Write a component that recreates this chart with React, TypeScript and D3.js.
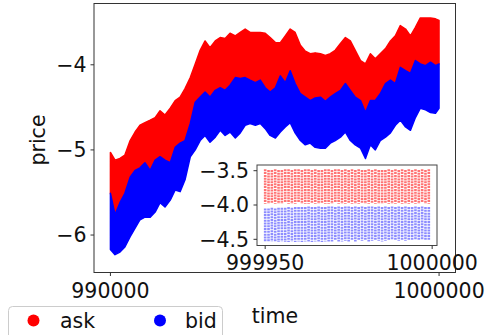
import React from "react";
import * as d3 from "d3";

// main panel: envelopes (ask top, red/blue border, bid bottom)
const mainTimes = [
  990000, 990140, 990290, 990440, 990600, 990750, 990900, 991050, 991210, 991360,
  991510, 991660, 991820, 991970, 992120, 992270, 992430, 992580, 992730, 992880,
  993030, 993190, 993340, 993490, 993640, 993800, 993950, 994100, 994250, 994410,
  994560, 994710, 994860, 995020, 995170, 995320, 995470, 995620, 995780, 995930,
  996080, 996230, 996390, 996540, 996690, 996840, 997000, 997150, 997300, 997450,
  997610, 997760, 997910, 998060, 998210, 998370, 998520, 998670, 998820, 998980,
  999130, 999280, 999430, 999590, 999740, 999890, 999999,
];
const askTop = [
  -5.03, -5.12, -5.1, -5.06, -4.89, -4.79, -4.71, -4.68, -4.65, -4.62,
  -4.54, -4.59, -4.51, -4.42, -4.38, -4.28, -4.15, -3.99, -3.83, -3.72,
  -3.8, -3.72, -3.68, -3.69, -3.63, -3.66, -3.62, -3.58, -3.62, -3.62,
  -3.62, -3.63, -3.68, -3.74, -3.74, -3.66, -3.58, -3.62, -3.77, -3.84,
  -3.87, -3.86, -3.87, -3.89, -3.87, -3.83, -3.75, -3.68, -3.72, -3.83,
  -3.95, -3.99, -3.87, -3.93, -3.87, -3.81, -3.72, -3.66, -3.54, -3.58,
  -3.66, -3.56, -3.45, -3.45, -3.45, -3.46, -3.48,
];
const bidTop = [
  -5.51, -5.76, -5.62, -5.51, -5.32, -5.24, -5.21, -5.15, -5.24, -5.12,
  -5.08, -5.12, -5.15, -4.97, -4.92, -4.89, -4.69, -4.44, -4.38, -4.32,
  -4.38, -4.3, -4.27, -4.3, -4.24, -4.15, -4.16, -4.15, -4.18, -4.21,
  -4.18, -4.27, -4.32, -4.27, -4.13, -4.21, -4.07, -4.22, -4.34, -4.38,
  -4.42, -4.39, -4.38, -4.43, -4.38, -4.34, -4.3, -4.22, -4.3, -4.38,
  -4.42, -4.56, -4.42, -4.42, -4.34, -4.22, -4.18, -4.22, -4.03, -4.07,
  -4.1, -3.95, -3.99, -4.01, -3.97, -4.01, -3.99,
];
const bidBottom = [
  -6.17, -6.23, -6.2, -6.14, -6.02, -5.92, -5.82, -5.79, -5.79, -5.73,
  -5.62, -5.67, -5.59, -5.47, -5.49, -5.35, -5.08, -5.0, -4.89, -4.83,
  -4.91, -4.85, -4.77, -4.83, -4.79, -4.86, -4.8, -4.71, -4.69, -4.71,
  -4.69, -4.75, -4.83, -4.86, -4.79, -4.73, -4.68, -4.8, -4.89, -4.94,
  -4.92, -4.97, -4.98, -4.98, -4.92, -4.89, -4.85, -4.79, -4.89, -4.94,
  -4.98, -5.1, -4.94, -5.0, -4.89, -4.85, -4.8, -4.71, -4.65, -4.73,
  -4.77, -4.62, -4.51, -4.53, -4.56, -4.57, -4.51,
];
const mainXTicks = [990000, 1000000];
const mainYTicks = [-4, -5, -6];

// inset: last 50 steps, one column of points per step
const insetTimes = d3.range(999950, 1000000);
const insetAskHigh = [
  -3.48, -3.49, -3.49, -3.48, -3.49, -3.49, -3.48, -3.48, -3.49, -3.48,
  -3.48, -3.49, -3.48, -3.48, -3.49, -3.48, -3.49, -3.49, -3.48, -3.48,
  -3.49, -3.48, -3.48, -3.49, -3.48, -3.49, -3.48, -3.49, -3.48, -3.49,
  -3.49, -3.48, -3.49, -3.48, -3.49, -3.49, -3.49, -3.48, -3.49, -3.48,
  -3.49, -3.48, -3.49, -3.48, -3.49, -3.48, -3.49, -3.48, -3.49, -3.48,
];
const insetAskLow = [
  -3.98, -3.98, -3.97, -3.98, -3.98, -3.98, -3.97, -3.98, -3.98, -3.98,
  -3.97, -3.98, -3.98, -3.98, -3.97, -3.98, -3.98, -3.97, -3.98, -3.98,
  -3.98, -3.97, -3.98, -3.98, -3.98, -3.97, -3.98, -3.98, -3.98, -3.97,
  -3.98, -3.98, -3.97, -3.98, -3.98, -3.98, -3.97, -3.98, -3.98, -3.98,
  -3.97, -3.98, -3.98, -3.98, -3.97, -3.98, -3.98, -3.97, -3.98, -3.98,
];
const insetBidHigh = [
  -4.05, -4.05, -4.04, -4.05, -4.04, -4.04, -4.04, -4.03, -4.04, -4.03,
  -4.03, -4.03, -4.03, -4.02, -4.03, -4.03, -4.02, -4.03, -4.03, -4.02,
  -4.02, -4.03, -4.02, -4.03, -4.02, -4.02, -4.03, -4.02, -4.03, -4.02,
  -4.03, -4.02, -4.02, -4.03, -4.02, -4.03, -4.02, -4.03, -4.02, -4.03,
  -4.02, -4.03, -4.02, -4.03, -4.03, -4.02, -4.03, -4.02, -4.03, -4.03,
];
const insetBidLow = [
  -4.54, -4.54, -4.53, -4.54, -4.54, -4.53, -4.54, -4.54, -4.53, -4.54,
  -4.53, -4.54, -4.53, -4.53, -4.54, -4.53, -4.53, -4.54, -4.53, -4.53,
  -4.53, -4.52, -4.53, -4.53, -4.52, -4.53, -4.52, -4.53, -4.52, -4.52,
  -4.52, -4.53, -4.52, -4.52, -4.52, -4.53, -4.52, -4.52, -4.51, -4.52,
  -4.52, -4.51, -4.52, -4.51, -4.52, -4.51, -4.52, -4.51, -4.52, -4.51,
];
const insetXTicks = [999950, 1000000];
const insetYTicks = [-3.5, -4.0, -4.5];

const FONT = "'DejaVu Sans', sans-serif";
const fmtMinus = (s: string) => s.replace("-", "\u2212");

const App = () => {
  const W = 487;
  const H = 335;
  // main axes box
  const mx0 = 94, mx1 = 455.5, my0 = 3.5, my1 = 272.5;
  const x = d3.scaleLinear([989500, 1000500], [mx0, mx1]);
  const y = d3.scaleLinear([-6.44, -3.28], [my1, my0]);

  // inset axes box
  const ix0 = 257, ix1 = 437, iy0 = 165, iy1 = 245.5;
  const ix = d3.scaleLinear([999947.55, 1000001.45], [ix0, ix1]);
  const iy = d3.scaleLinear([-4.59, -3.417], [iy1, iy0]);

  const idx = d3.range(mainTimes.length);
  const askArea = d3
    .area<number>()
    .x((i) => x(mainTimes[i]))
    .y0((i) => y(bidTop[i]))
    .y1((i) => y(askTop[i]));
  const bidArea = d3
    .area<number>()
    .x((i) => x(mainTimes[i]))
    .y0((i) => y(bidBottom[i]))
    .y1((i) => y(bidTop[i]));

  return (
    <svg
      width={W}
      height={H}
      style={{ position: "absolute", left: 0, top: 0, background: "#fff" }}
      fontFamily={FONT}
    >
      <rect width={W} height={H} fill="#fff" />

      {/* main data */}
      <path d={askArea(idx) || ""} fill="#ff0000" stroke="#ff0000" strokeWidth={1.5} strokeLinejoin="round" />
      <path d={bidArea(idx) || ""} fill="#0000ff" stroke="#0000ff" strokeWidth={1.5} strokeLinejoin="round" />

      {/* main frame */}
      <rect x={mx0} y={my0} width={mx1 - mx0} height={my1 - my0} fill="none" stroke="#333" strokeWidth={1} />
      {mainYTicks.map((t) => (
        <g key={"my" + t}>
          <line x1={mx0 - 3.5} x2={mx0} y1={y(t)} y2={y(t)} stroke="#333" />
          <text x={mx0 - 7.5} y={y(t)} dy="0.36em" textAnchor="end" fontSize={20.5} fill="#111">
            {fmtMinus(String(t))}
          </text>
        </g>
      ))}
      {mainXTicks.map((t) => (
        <g key={"mx" + t}>
          <line x1={x(t)} x2={x(t)} y1={my1} y2={my1 + 3.5} stroke="#333" />
          <text x={x(t)} y={my1 + 25} textAnchor="middle" fontSize={20.5} fill="#111">
            {t}
          </text>
        </g>
      ))}
      <text x={275} y={323} textAnchor="middle" fontSize={20.5} fill="#111">
        time
      </text>
      <text transform="translate(45,140) rotate(-90)" textAnchor="middle" fontSize={20.5} fill="#111">
        price
      </text>

      {/* inset */}
      <rect x={ix0} y={iy0} width={ix1 - ix0} height={iy1 - iy0} fill="#fff" />
      {insetTimes.map((t, i) => (
        <g key={"ic" + t}>
          <line
            x1={ix(t)} x2={ix(t)} y1={iy(insetAskHigh[i])} y2={iy(insetAskLow[i])}
            stroke="#ff0000" strokeOpacity={0.55} strokeWidth={2.6} strokeDasharray="2 0.8"
          />
          <line
            x1={ix(t)} x2={ix(t)} y1={iy(insetBidHigh[i])} y2={iy(insetBidLow[i])}
            stroke="#0000ff" strokeOpacity={0.45} strokeWidth={2.6} strokeDasharray="2 0.8"
          />
        </g>
      ))}
      <rect x={ix0} y={iy0} width={ix1 - ix0} height={iy1 - iy0} fill="none" stroke="#444" strokeWidth={1} />
      {insetYTicks.map((t) => (
        <g key={"iy" + t}>
          <line x1={ix0 - 3.5} x2={ix0} y1={iy(t)} y2={iy(t)} stroke="#333" />
          <text x={ix0 - 8} y={iy(t)} dy="0.36em" textAnchor="end" fontSize={20.5} fill="#111">
            {fmtMinus(t.toFixed(1))}
          </text>
        </g>
      ))}
      {insetXTicks.map((t) => (
        <g key={"ix" + t}>
          <line x1={ix(t)} x2={ix(t)} y1={iy1} y2={iy1 + 3.5} stroke="#333" />
          <text x={ix(t)} y={iy1 + 24.5} textAnchor="middle" fontSize={20.5} fill="#111">
            {t}
          </text>
        </g>
      ))}

      {/* legend */}
      <rect x={8.5} y={306.5} width={214} height={34} rx={4} fill="#fff" fillOpacity={0.8} stroke="#ccc" />
      <circle cx={33.5} cy={320.5} r={6} fill="#ff0000" />
      <text x={60} y={327.5} fontSize={20.5} fill="#111">ask</text>
      <circle cx={160} cy={320.5} r={6} fill="#0000ff" />
      <text x={185} y={327.5} fontSize={20.5} fill="#111">bid</text>
    </svg>
  );
};

export default App;
